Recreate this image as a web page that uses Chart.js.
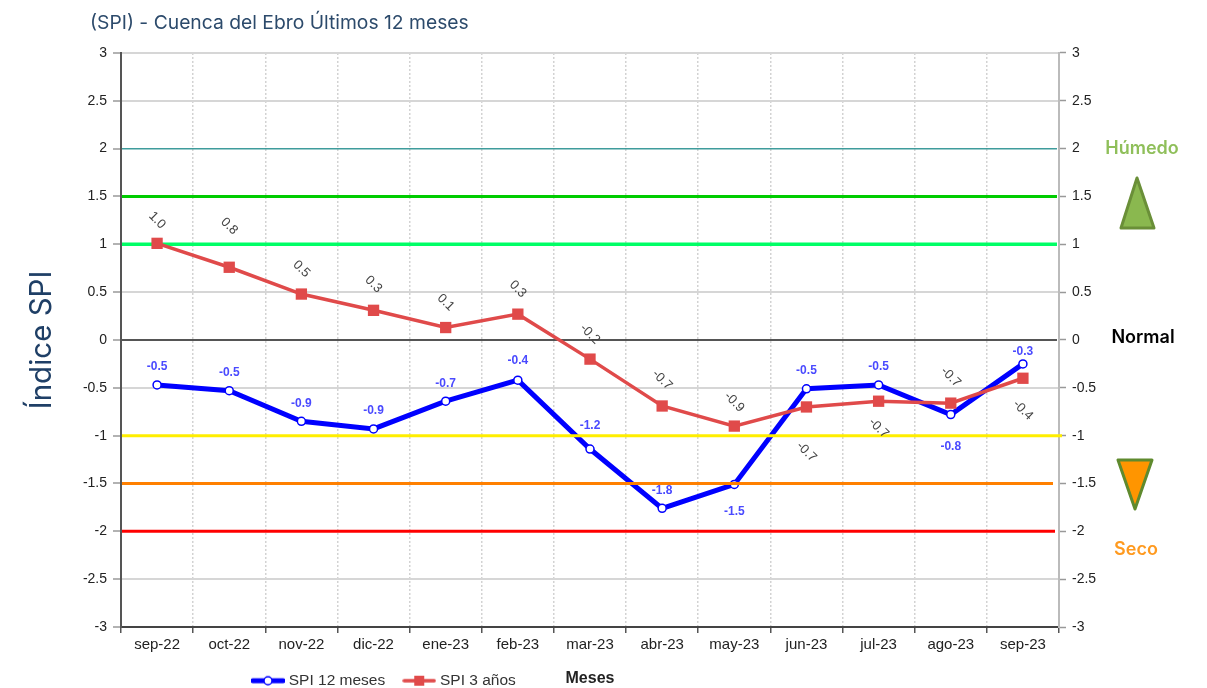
<!DOCTYPE html>
<html lang="es">
<head>
<meta charset="utf-8">
<title>SPI Cuenca del Ebro</title>
<script src="https://cdn.jsdelivr.net/npm/chart.js@4/dist/chart.umd.min.js"></script>
<style>
    html, body { margin: 0; padding: 0; background: #fff; }
    canvas { display: block; filter: blur(0.4px); }
</style>
</head>
<body>
<canvas id="spiChart" width="1207" height="688"></canvas>
<script>
const months = ['sep-22', 'oct-22', 'nov-22', 'dic-22', 'ene-23', 'feb-23', 'mar-23', 'abr-23', 'may-23', 'jun-23', 'jul-23', 'ago-23', 'sep-23'];
const spi12 = [-0.47, -0.53, -0.85, -0.93, -0.64, -0.42, -1.14, -1.76, -1.51, -0.51, -0.47, -0.78, -0.25];
const spi3 = [1.01, 0.76, 0.48, 0.31, 0.13, 0.27, -0.20, -0.69, -0.90, -0.70, -0.64, -0.66, -0.40];
const spi12Labels = ['-0.5', '-0.5', '-0.9', '-0.9', '-0.7', '-0.4', '-1.2', '-1.8', '-1.5', '-0.5', '-0.5', '-0.8', '-0.3'];
const spi3Labels = ['1.0', '0.8', '0.5', '0.3', '0.1', '0.3', '-0.2', '-0.7', '-0.9', '-0.7', '-0.7', '-0.7', '-0.4'];
const thresholdValues = [2, 1.5, 1, 0, -1, -1.5, -2];

// label offsets from each point, in pixels
const spi12LabelOffsets = [-18, -18, -18, -18, -18, -19, -23, -18, 27, -18, -18, 32, -12];
const spi3LabelOffsets = [-23, -41, -25, -26, -25, -25, -25, -26, -24, 45, 27, -26, 32];
const thresholdColors = ['#3f9c9c', '#00cc00', '#00ff66', '#555555', '#ffee00', '#ff8000', '#ff0000'];
const thresholdWidths = [1.5, 3, 3.5, 2, 3, 3, 3];
const thresholdEnds = [-2, -2, -2, -2, 3, -6, -4];

const tickFont = { family: '"Liberation Sans", Arial, sans-serif', size: 14 };
const headingFont = 'Inter, "Open Sans", sans-serif';

function legendIcon(color, lineWidth, drawMarker) {
    const c = document.createElement('canvas');
    c.width = 34;
    c.height = 14;
    const g = c.getContext('2d');
    g.strokeStyle = color;
    g.lineWidth = lineWidth;
    g.lineCap = 'round';
    g.beginPath();
    g.moveTo(2, 7);
    g.lineTo(32, 7);
    g.stroke();
    drawMarker(g);
    return c;
}

const spi12Icon = legendIcon('#0000ff', 5, function (g) {
    g.beginPath();
    g.arc(17, 7, 4, 0, Math.PI * 2);
    g.fillStyle = '#fff';
    g.fill();
    g.lineWidth = 1.5;
    g.stroke();
});
const spi3Icon = legendIcon('#e04a4a', 3.5, function (g) {
    g.fillStyle = '#e04a4a';
    g.fillRect(12, 2, 10, 10);
});

// threshold lines go above the blue series but below the red one
const thresholdPlugin = {
    id: 'thresholds',
    beforeDatasetDraw(chart, args) {
        if (args.index !== 1) return;
        const ctx = chart.ctx;
        const area = chart.chartArea;
        const y = chart.scales.y;
        ctx.save();
        thresholdValues.forEach((v, i) => {
            ctx.strokeStyle = thresholdColors[i];
            ctx.lineWidth = thresholdWidths[i];
            ctx.beginPath();
            ctx.moveTo(area.left + 1, y.getPixelForValue(v));
            ctx.lineTo(area.right + thresholdEnds[i], y.getPixelForValue(v));
            ctx.stroke();
        });
        ctx.restore();
    }
};

const pointLabelPlugin = {
    id: 'pointLabels',
    afterDatasetsDraw(chart) {
        const ctx = chart.ctx;
        ctx.save();
        ctx.textAlign = 'center';
        ctx.textBaseline = 'middle';
        ctx.font = 'bold 12px "Liberation Sans", Arial, sans-serif';
        ctx.fillStyle = '#4a4aff';
        chart.getDatasetMeta(0).data.forEach((pt, i) => {
            ctx.fillText(spi12Labels[i], pt.x, pt.y + spi12LabelOffsets[i]);
        });
        ctx.font = '13px "Liberation Sans", Arial, sans-serif';
        ctx.fillStyle = '#444';
        chart.getDatasetMeta(1).data.forEach((pt, i) => {
            ctx.save();
            ctx.translate(pt.x, pt.y + spi3LabelOffsets[i]);
            ctx.rotate(Math.PI / 4);
            ctx.fillText(spi3Labels[i], 0, 0);
            ctx.restore();
        });
        ctx.restore();
    }
};

// Humedo / Normal / Seco notes at the right of the plot
const sideNotesPlugin = {
    id: 'sideNotes',
    afterDraw(chart) {
        const ctx = chart.ctx;
        ctx.save();
        ctx.textAlign = 'center';
        ctx.textBaseline = 'middle';
        ctx.font = '600 18px ' + headingFont;
        ctx.fillStyle = '#8fbf5a';
        ctx.fillText('Húmedo', 1142, 149);
        ctx.fillStyle = '#000';
        ctx.fillText('Normal', 1143, 338);
        ctx.fillStyle = '#ff9a1f';
        ctx.fillText('Seco', 1136, 550);

        ctx.lineWidth = 3;
        ctx.lineJoin = 'round';
        ctx.fillStyle = '#8ab84f';
        ctx.strokeStyle = '#6a8f38';
        ctx.beginPath();
        ctx.moveTo(1137, 178);
        ctx.lineTo(1154, 228);
        ctx.lineTo(1121, 228);
        ctx.closePath();
        ctx.fill();
        ctx.stroke();

        ctx.fillStyle = '#ff9500';
        ctx.strokeStyle = '#5f8a2e';
        ctx.beginPath();
        ctx.moveTo(1118, 460);
        ctx.lineTo(1152, 460);
        ctx.lineTo(1135, 509);
        ctx.closePath();
        ctx.fill();
        ctx.stroke();
        ctx.restore();
    }
};

// title and legend sit in free spots, not where the layout would put them
const placementPlugin = {
    id: 'placement',
    beforeLayout(chart) {
        const legend = chart.legend;
        if (legend.placed) return;
        legend.placed = true;
        const fit = legend.fit;
        legend.fit = function () {
            fit.call(this);
            this.height = 0;
        };
    },
    afterLayout(chart) {
        const legend = chart.legend;
        legend.left = 234;
        legend.right = 1000;
        legend.top = 652;
        legend.bottom = 688;
        chart.titleBlock.left = 90;
    }
};

new Chart(document.getElementById('spiChart').getContext('2d'), {
    type: 'line',
    data: {
        labels: months,
        datasets: [
            {
                label: 'SPI 12 meses',
                data: spi12,
                borderColor: '#0000ff',
                borderWidth: 5,
                backgroundColor: '#fff',
                pointRadius: 4,
                pointBorderWidth: 1.5,
                pointBackgroundColor: '#fff',
                pointBorderColor: '#0000ff',
                order: 2
            },
            {
                label: 'SPI 3 años',
                data: spi3,
                borderColor: '#e04a4a',
                borderWidth: 3.5,
                backgroundColor: '#e04a4a',
                pointStyle: 'rect',
                pointRadius: 8,
                pointBorderWidth: 0,
                pointBackgroundColor: '#e04a4a',
                order: 1
            }
        ]
    },
    options: {
        responsive: false,
        animation: false,
        layout: { padding: 0 },
        scales: {
            x: {
                offset: true,
                afterFit(scale) { scale.height = 61; },
                grid: { offset: true, color: '#d2d2d2', lineWidth: 1.5, tickColor: '#555', tickLength: 6, tickWidth: 1.5 },
                border: { color: '#444', width: 2, dash: [2, 2] },
                ticks: { color: '#222', font: { family: tickFont.family, size: 15 }, padding: 3, maxRotation: 0, autoSkip: false },
                title: {
                    display: true,
                    text: 'Meses',
                    color: '#222',
                    font: { family: tickFont.family, size: 16, weight: 'bold' },
                    padding: { top: 12, bottom: 0 }
                }
            },
            y: {
                min: -3,
                max: 3,
                afterFit(scale) { scale.width = 121; },
                grid: {
                    color: ctx => thresholdValues.includes(ctx.tick.value) ? 'rgba(0,0,0,0)' : '#d6d6d6',
                    lineWidth: 2,
                    tickColor: '#999',
                    tickLength: 8,
                    tickWidth: 1.5
                },
                border: { color: '#555', width: 2 },
                ticks: { stepSize: 0.5, color: '#222', font: tickFont, padding: 6, callback: v => String(v) },
                title: {
                    display: true,
                    text: 'Índice SPI',
                    color: '#1f3f66',
                    font: { family: headingFont, size: 29.5 },
                    padding: { top: 24, bottom: 0 }
                }
            },
            y1: {
                position: 'right',
                min: -3,
                max: 3,
                afterFit(scale) { scale.width = 148; },
                grid: { drawOnChartArea: false, tickColor: '#999', tickLength: 7, tickWidth: 1.5 },
                border: { color: '#bbb', width: 2 },
                ticks: { stepSize: 0.5, color: '#222', font: tickFont, padding: 6, callback: v => String(v) }
            }
        },
        plugins: {
            title: {
                display: true,
                text: '(SPI) - Cuenca del Ebro Últimos 12 meses',
                align: 'start',
                color: '#2c4a6b',
                font: { family: headingFont, size: 19.3, weight: 'normal' },
                padding: { top: 12, bottom: 17.8 }
            },
            legend: {
                position: 'bottom',
                align: 'start',
                labels: {
                    usePointStyle: true,
                    pointStyleWidth: 26,
                    padding: 21,
                    color: '#333',
                    font: { family: tickFont.family, size: 15.5 },
                    generateLabels: () => [
                        { text: 'SPI 12 meses', pointStyle: spi12Icon, fontColor: '#333', datasetIndex: 0, lineWidth: 0 },
                        { text: 'SPI 3 años', pointStyle: spi3Icon, fontColor: '#333', datasetIndex: 1, lineWidth: 0 }
                    ]
                }
            },
            tooltip: { enabled: false }
        }
    },
    plugins: [placementPlugin, thresholdPlugin, pointLabelPlugin, sideNotesPlugin]
});
</script>
</body>
</html>
